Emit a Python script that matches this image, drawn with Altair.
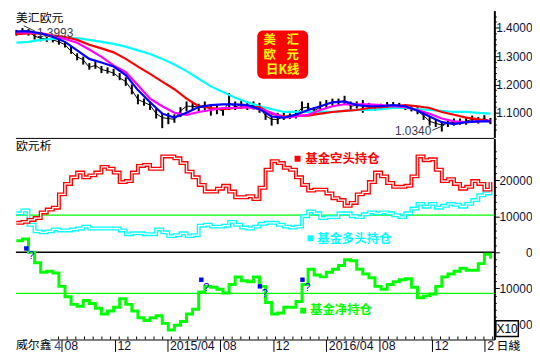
import altair as alt
import pandas as pd

# ---------------- data ----------------
# fortnightly samples starting 2014-04-18
close_px = [1.380, 1.390, 1.387, 1.370, 1.363, 1.360, 1.357, 1.350, 1.340, 1.317,
            1.297, 1.287, 1.260, 1.267, 1.253, 1.247, 1.240, 1.223, 1.210, 1.180,
            1.147, 1.137, 1.127, 1.097, 1.083, 1.080, 1.077, 1.107, 1.123, 1.123,
            1.120, 1.127, 1.110, 1.113, 1.107, 1.137, 1.120, 1.130, 1.123, 1.127,
            1.120, 1.090, 1.077, 1.077, 1.087, 1.087, 1.097, 1.117, 1.120, 1.107,
            1.120, 1.130, 1.137, 1.137, 1.143, 1.123, 1.127, 1.130, 1.123, 1.120,
            1.120, 1.127, 1.127, 1.127, 1.120, 1.117, 1.107, 1.090, 1.070, 1.063,
            1.057, 1.063, 1.067, 1.067, 1.070, 1.077, 1.073, 1.080, 1.070]
high_px = [1.392, 1.399, 1.395, 1.380, 1.372, 1.368, 1.365, 1.360, 1.350, 1.335,
           1.310, 1.298, 1.275, 1.282, 1.265, 1.260, 1.255, 1.240, 1.225, 1.200,
           1.165, 1.150, 1.140, 1.115, 1.100, 1.100, 1.095, 1.120, 1.140, 1.135,
           1.132, 1.140, 1.125, 1.125, 1.118, 1.170, 1.140, 1.145, 1.140, 1.140,
           1.135, 1.105, 1.090, 1.100, 1.100, 1.098, 1.110, 1.140, 1.135, 1.120,
           1.140, 1.145, 1.150, 1.150, 1.160, 1.140, 1.140, 1.145, 1.135, 1.130,
           1.132, 1.138, 1.138, 1.135, 1.130, 1.125, 1.120, 1.105, 1.085, 1.075,
           1.070, 1.075, 1.080, 1.080, 1.082, 1.090, 1.085, 1.092, 1.082]
low_px = [1.372, 1.380, 1.372, 1.358, 1.352, 1.350, 1.348, 1.340, 1.330, 1.308,
          1.285, 1.270, 1.252, 1.255, 1.240, 1.238, 1.230, 1.215, 1.195, 1.165,
          1.130, 1.125, 1.110, 1.080, 1.046, 1.060, 1.065, 1.085, 1.105, 1.108,
          1.105, 1.108, 1.090, 1.095, 1.090, 1.110, 1.110, 1.115, 1.110, 1.112,
          1.100, 1.075, 1.055, 1.060, 1.075, 1.078, 1.080, 1.100, 1.105, 1.095,
          1.105, 1.115, 1.125, 1.125, 1.130, 1.110, 1.115, 1.100, 1.110, 1.108,
          1.110, 1.115, 1.115, 1.115, 1.110, 1.105, 1.095, 1.075, 1.055, 1.050,
          1.034, 1.050, 1.055, 1.058, 1.058, 1.065, 1.062, 1.068, 1.060]

# moving averages, 4-weekly samples starting 2014-04-18
ma_blue = [1.387, 1.387, 1.380, 1.367, 1.350, 1.320, 1.290, 1.277, 1.263, 1.233,
           1.180, 1.137, 1.097, 1.083, 1.100, 1.120, 1.127, 1.130, 1.130, 1.127,
           1.113, 1.087, 1.083, 1.093, 1.110, 1.123, 1.137, 1.140, 1.127, 1.123,
           1.123, 1.127, 1.123, 1.107, 1.087, 1.067, 1.060, 1.067, 1.070, 1.070]
ma_magenta = [1.383, 1.383, 1.380, 1.370, 1.360, 1.347, 1.323, 1.297, 1.267, 1.243,
              1.197, 1.150, 1.123, 1.100, 1.093, 1.103, 1.110, 1.117, 1.117, 1.120,
              1.113, 1.100, 1.083, 1.087, 1.093, 1.110, 1.123, 1.130, 1.130, 1.130,
              1.127, 1.123, 1.120, 1.110, 1.097, 1.080, 1.070, 1.067, 1.070, 1.073]
ma_red = [1.377, 1.380, 1.380, 1.373, 1.367, 1.357, 1.340, 1.327, 1.313, 1.290,
          1.263, 1.237, 1.210, 1.183, 1.150, 1.123, 1.117, 1.113, 1.117, 1.120,
          1.120, 1.097, 1.087, 1.090, 1.090, 1.097, 1.103, 1.107, 1.110, 1.117,
          1.120, 1.123, 1.127, 1.123, 1.117, 1.103, 1.093, 1.083, 1.077, 1.070]
ma_cyan = [1.347, 1.350, 1.357, 1.360, 1.363, 1.363, 1.357, 1.350, 1.343, 1.333,
           1.320, 1.307, 1.290, 1.270, 1.247, 1.220, 1.193, 1.173, 1.153, 1.137,
           1.123, 1.113, 1.103, 1.103, 1.103, 1.103, 1.103, 1.107, 1.110, 1.110,
           1.113, 1.117, 1.117, 1.113, 1.110, 1.107, 1.103, 1.103, 1.100, 1.097]

# fund positions, fortnightly samples starting 2014-04-18
short_pos = [8160, 8420, 8950, 9470, 11050, 11840, 12370, 16050, 18950, 20790,
             22110, 20790, 21320, 22110, 23680, 23160, 22110, 19470, 19740, 22110,
             23950, 24210, 23160, 23160, 26580, 26580, 26050, 24740, 22370, 20790,
             18680, 16840, 16840, 17630, 18420, 16840, 15260, 15260, 15530, 14740,
             17890, 22890, 25260, 24740, 23420, 22890, 20790, 18680, 17110, 17370,
             17370, 16320, 15000, 14470, 12890, 13680, 16050, 16580, 19470, 22110,
             21050, 19210, 18160, 18160, 18420, 21050, 26580, 25530, 25790, 22890,
             19740, 20260, 18950, 17630, 18160, 19740, 18950, 17370, 19470]
long_pos = [10790, 11580, 7630, 5790, 5530, 5790, 6320, 6050, 6050, 6320,
            6580, 7110, 6580, 6580, 6580, 6580, 6580, 6050, 5000, 5260,
            5260, 5000, 5000, 6320, 5530, 4470, 4740, 5260, 4470, 4740,
            7370, 7630, 7110, 7110, 7370, 8420, 7630, 6840, 6580, 7110,
            7890, 8160, 8160, 7630, 7110, 6840, 7110, 10000, 11320, 10790,
            9470, 9740, 9740, 10790, 10790, 10000, 9740, 10530, 11050, 10790,
            11050, 10790, 10260, 9740, 10790, 12110, 13420, 12630, 13420, 12370,
            12890, 13420, 13160, 12630, 13420, 14470, 15790, 16320, 17370]
net_pos = [3160, 3680, 0, -2890, -5530, -5260, -5790, -9470, -12370, -14470,
           -15000, -13420, -14210, -15530, -17110, -16320, -15260, -12890, -14470, -16320,
           -18160, -18950, -18160, -17630, -19740, -21580, -20260, -19210, -17110, -15790,
           -11050, -9470, -9740, -10260, -11320, -8950, -6840, -7890, -8160, -6840,
           -9470, -13950, -17110, -16840, -15260, -15260, -13680, -8950, -4740, -6320,
           -6840, -5530, -4740, -3680, -2110, -2370, -4740, -6050, -7110, -9470,
           -10260, -8950, -8160, -7630, -7370, -9740, -12630, -12110, -11580, -9470,
           -6840, -6050, -5260, -4470, -5000, -5000, -3160, -530, -1840]

ref_levels = [10300, 0, -11400]
ref_colors = ["#00ff00", "#000000", "#00ff00"]

flag_dates = ["2014-05-11", "2015-06-18", "2015-10-31", "2016-02-06"]
flag_vals = [1050, -7630, -9470, -7630]

peak_date, peak_val, peak_text = "2014-05-08", 1.3993, "1.3993"
low_date, low_val, low_text = "2017-01-03", 1.0340, "1.0340"
lead_d1 = ["2014-05-05", "2016-12-01"]
lead_v1 = [1.4067, 1.0383]
lead_d2 = ["2014-05-31", "2016-12-29"]
lead_v2 = [1.3877, 1.0567]

price_ticks = [round(1.04 + 0.02 * i, 2) for i in range(21)]
pos_ticks = list(range(-22000, 30000, 2000))
month_ticks = [(2014, 8), (2014, 12), (2015, 4), (2015, 8), (2015, 12),
               (2016, 4), (2016, 8), (2016, 12), (2017, 4)]
minor_ticks = pd.date_range("2014-05-05", "2017-04-20", freq="20D")

# ---------------- layout ----------------
W, H1, H2 = 483, 128, 203
CJK = "Noto Sans CJK SC"
LAT = "Liberation Sans"
INK = "#101030"

d2 = pd.date_range("2014-04-18", periods=len(close_px), freq="14D")
d4 = pd.date_range("2014-04-18", periods=len(ma_blue), freq="28D")
price_df = pd.DataFrame({"date": d2, "close": close_px, "high": high_px, "low": low_px})
ma_df = pd.DataFrame({"date": d4, "blue": ma_blue, "magenta": ma_magenta,
                      "red": ma_red, "cyan": ma_cyan})
cot_df = pd.DataFrame({"date": d2, "short": short_pos, "long": long_pos, "net": net_pos})

x_scale = alt.Scale(domain=[alt.DateTime(year=2014, month=4, date=17),
                            alt.DateTime(year=2017, month=4, date=23)])
top_scale = alt.Scale(domain=[1.0133, 1.46], zero=False, nice=False)
bot_scale = alt.Scale(domain=[-24210, 31580], zero=False, nice=False)

MAJ_P = "abs(datum.value * 10 - round(datum.value * 10)) < 0.001"
MAJ_N = "datum.value % 10000 == 0"

top_axis = alt.Axis(orient="right", values=price_ticks, title=None, grid=False,
                    domainColor="black", domainWidth=2, tickColor="black", tickWidth=1,
                    tickSize={"condition": {"test": MAJ_P, "value": 5}, "value": 2},
                    labelExpr=f"{MAJ_P} ? format(datum.value, '.4f') : ''",
                    labelAlign="right", labelBaseline="middle", labelPadding=33,
                    labelFont=LAT, labelFontSize=12, labelColor=INK,
                    labelOverlap=False, labelFlush=False)
bot_axis = alt.Axis(orient="right", values=pos_ticks, title=None, grid=False,
                    domainColor="black", domainWidth=2, tickColor="black", tickWidth=1,
                    tickSize={"condition": {"test": MAJ_N, "value": 5}, "value": 2},
                    labelExpr=f"{MAJ_N} ? format(abs(datum.value), 'd') : ''",
                    labelAlign="right", labelBaseline="middle", labelPadding=33,
                    labelFont=LAT, labelFontSize=12, labelColor=INK,
                    labelOverlap=False, labelFlush=False)
x_axis = alt.Axis(values=[alt.DateTime(year=y, month=m, date=1) for y, m in month_ticks],
                  labelExpr="month(datum.value) == 3 ? (year(datum.value) == 2017 ? '2' : timeFormat(datum.value, '%Y/%m')) : timeFormat(datum.value, '%m')",
                  title=None, grid=False, domainColor="black", domainWidth=1,
                  tickColor="black", tickSize=12, tickWidth=1,
                  labelAlign="left", labelBaseline="middle", labelPadding=-5.5, labelOffset=2,
                  labelFont="Liberation Sans Narrow, Liberation Sans, Arial", labelFontSize=12.5,
                  labelColor=INK, labelOverlap=False, labelFlush=False)

Xt = alt.X("date:T", scale=x_scale, axis=None, title=None)
Xb = alt.X("date:T", scale=x_scale, axis=x_axis, title=None)


def Yt(f):
    return alt.Y(f, type="quantitative", scale=top_scale, axis=top_axis, title=None)


def Yb(f):
    return alt.Y(f, type="quantitative", scale=bot_scale, axis=bot_axis, title=None)


one = pd.DataFrame({"a": [0]})


def label(text, x, y, color="black", size=12, weight="normal", align="left", font=CJK):
    return alt.Chart(pd.DataFrame({"t": [text]})).mark_text(
        align=align, baseline="middle", color=color, fontSize=size,
        fontWeight=weight, font=font
    ).encode(x=alt.value(x), y=alt.value(y), text="t:N")


def box(x1, x2, y1, y2, fill, stroke=None, radius=0):
    kw = dict(fill=fill, cornerRadius=radius)
    if stroke:
        kw.update(stroke=stroke, strokeWidth=1.5)
    return alt.Chart(one).mark_rect(**kw).encode(
        x=alt.value(x1), x2=alt.value(x2), y=alt.value(y1), y2=alt.value(y2))


# ---------------- top panel ----------------
candles = alt.Chart(price_df).mark_rule(color="black", strokeWidth=2).encode(
    x=Xt, y=Yt("low"), y2="high")
close_line = alt.Chart(price_df).mark_line(color="black", strokeWidth=1).encode(
    x=Xt, y=Yt("close"))
ma_layers = [alt.Chart(ma_df).mark_line(color=c, strokeWidth=2.2).encode(x=Xt, y=Yt(f))
             for f, c in [("cyan", "#00ffff"), ("red", "#ff0000"),
                          ("magenta", "#ff00ff"), ("blue", "#0000ff")]]

lead_df = pd.DataFrame({"date": pd.to_datetime(lead_d1), "v": lead_v1,
                        "date2": pd.to_datetime(lead_d2), "v2": lead_v2})
leaders = alt.Chart(lead_df).mark_rule(color="#333344", strokeWidth=1).encode(
    x=Xt, y=Yt("v"), x2="date2:T", y2="v2")
peak_lbl = alt.Chart(pd.DataFrame({"date": [pd.Timestamp(peak_date)], "v": [peak_val], "t": [peak_text]})).mark_text(
    align="left", baseline="middle", dx=12, dy=5, font=LAT, fontSize=12, color="#3a3a55"
).encode(x=Xt, y=Yt("v"), text="t:N")
low_lbl = alt.Chart(pd.DataFrame({"date": [pd.Timestamp(low_date)], "v": [low_val], "t": [low_text]})).mark_text(
    align="right", baseline="middle", dx=-15.5, dy=-0.5, font=LAT, fontSize=12, color="#3a3a55"
).encode(x=Xt, y=Yt("v"), text="t:N")

TB = dict(color="#ffff00", size=12.5, weight="bold", align="center")
top = alt.layer(
    candles, close_line, *ma_layers, leaders, peak_lbl, low_lbl,
    label("美汇欧元", 0, 7.2, size=12),
    box(243.6, 295.0, 20.1, 68.8, "#ff0000", radius=6),
    label("美", 256.2, 29.6, **TB),
    label("汇", 279.5, 29.6, **TB),
    label("欧", 256.2, 44.6, **TB),
    label("元", 279.5, 44.6, **TB),
    label("日K线", 269.3, 59.6, **TB),
).properties(width=W, height=H1)

# ---------------- bottom panel ----------------
lvl_df = pd.DataFrame({"v": ref_levels, "c": ref_colors})
levels = alt.Chart(lvl_df).mark_rule(strokeWidth=1.3).encode(
    y=Yb("v"), color=alt.Color("c:N", scale=None))


def outlined(field, color):
    base = alt.Chart(cot_df)
    return [base.mark_line(color=color, strokeWidth=4, interpolate="step-after").encode(x=Xb, y=Yb(field)),
            base.mark_line(color="white", strokeWidth=1.3, interpolate="step-after").encode(x=Xb, y=Yb(field))]


net_line = alt.Chart(cot_df).mark_line(color="#00ff00", strokeWidth=3, interpolate="step-after").encode(
    x=Xb, y=Yb("net"))
flag_df = pd.DataFrame({"date": pd.to_datetime(flag_dates), "v": flag_vals})
flags = alt.Chart(flag_df).mark_square(size=20, color="#0000ff", opacity=1).encode(x=Xb, y=Yb("v"))
qmarks = alt.Chart(flag_df).mark_text(text="?", dx=5, dy=8, color="#0000ff", fontSize=11, font=LAT).encode(
    x=Xb, y=Yb("v"))
minor_df = pd.DataFrame({"date": minor_ticks})
minor = alt.Chart(minor_df).mark_rule(color="black", strokeWidth=1).encode(
    x=Xb, y=alt.value(H2 - 3), y2=alt.value(H2))
top_border = alt.Chart(one).mark_rule(color="black", strokeWidth=1).encode(
    x=alt.value(0), x2=alt.value(W), y=alt.value(0))


def sq(x, y, color):
    return alt.Chart(one).mark_square(size=36, color=color, opacity=1).encode(
        x=alt.value(x), y=alt.value(y))


bottom = alt.layer(
    levels, *outlined("long", "#00ffff"), *outlined("short", "#ff0000"), net_line,
    flags, qmarks, minor, top_border,
    label("欧元析", 0, 8.1, size=12),
    sq(284.3, 20.5, "#ff0000"),
    label("基金空头持仓", 292.1, 21.0, color="#ff0000", size=12.5, weight="bold"),
    sq(297.4, 100.8, "#00ffff"),
    label("基金多头持仓", 304.0, 101.3, color="#00ffff", size=12.5, weight="bold"),
    sq(290.0, 173.9, "#00ff00"),
    label("基金净持仓", 296.9, 173.4, color="#00ff00", size=12.5, weight="bold"),
    box(0, 35, H2 - 4, H2 + 14, "white"),
    label("威尔鑫", 0, 208.3, size=12),
    label("4", 38.8, 209.3, color="#2050a0", size=12.5, font=LAT),
    box(484.5, 507.2, 184.1, 200.0, "white", stroke="black"),
    label("X10", 495.9, 192.2, size=12, align="center", font=LAT),
    label("日綫", 485.2, 209.3, size=12),
).properties(width=W, height=H2)

chart = alt.vconcat(top, bottom, spacing=0).properties(
    padding=0, background="white").configure_view(stroke=None)

chart.save("out.html", embed_options={"renderer": "svg", "actions": False})
